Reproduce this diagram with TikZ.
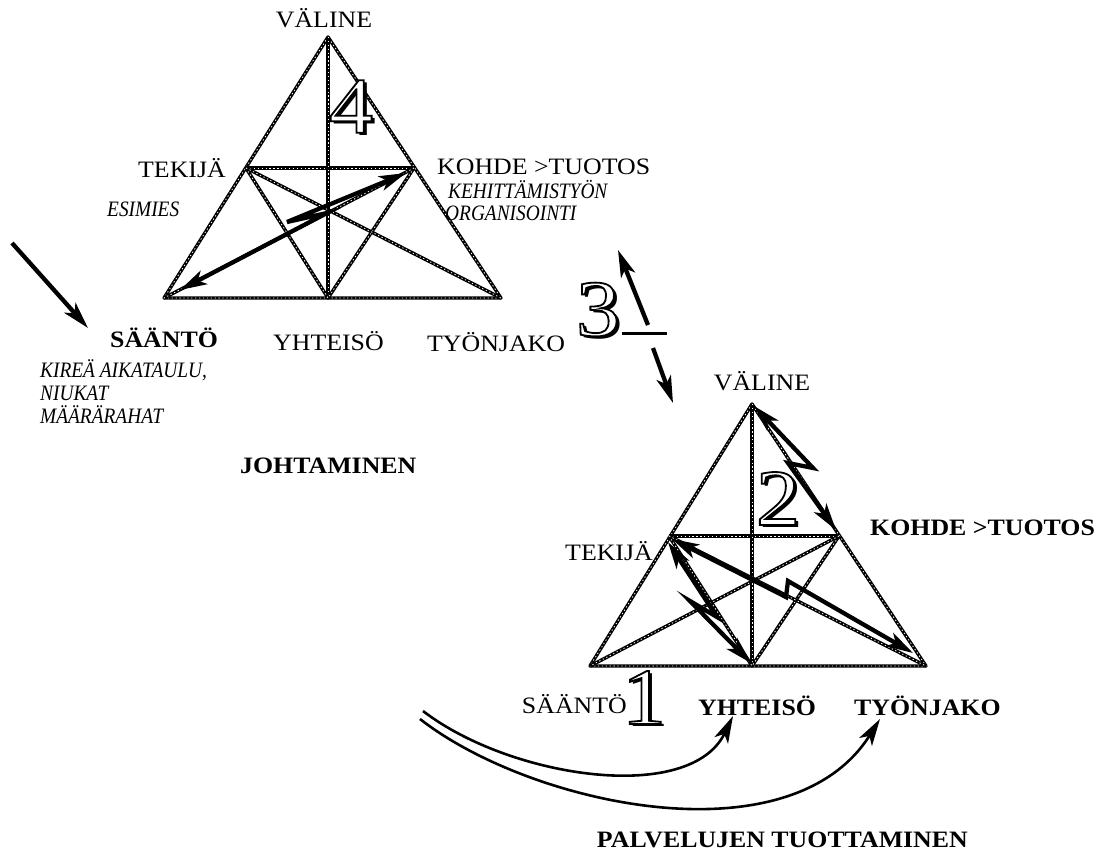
\documentclass[tikz,border=0pt]{standalone}
\usepackage{fontspec}
\setmainfont{Liberation Serif}[FakeStretch=1.1]
\newfontfamily\condfam{Liberation Serif}[FakeStretch=0.88]
\usetikzlibrary{arrows.meta}
\newcommand{\outnum}[1]{%
\makebox[0pt][l]{\kern3pt\raisebox{-3pt}{#1}}%
{\color{white}\special{pdf:literal direct 0 G 2 Tr 1.8 w}#1\special{pdf:literal direct 0 Tr 0.4 w}}}
\tikzset{
  lbl/.style={font=\fontsize{23.5}{26}\selectfont, inner sep=0pt, anchor=base west},
  lblb/.style={lbl, font=\fontsize{23.5}{26}\selectfont\bfseries},
  itl/.style={lbl, font=\fontsize{22}{24}\selectfont\condfam\itshape},
  numb/.style={inner sep=0pt, font=\fontsize{80}{80}\selectfont},
  tri/.style={line width=3.4pt, line join=round,
    postaction={draw, white, line width=0.8pt, dash pattern=on 1.3pt off 2.6pt}},
  arr/.style={line width=4.3pt, line join=miter},
  tip/.tip={Stealth[length=27pt, width=15pt, inset=7pt]},
}
\begin{document}
\begin{tikzpicture}[x=1pt, y=-1pt]
\path[use as bounding box, fill=white] (0,0) rectangle (1106,856);

% ---------- top triangle ----------
\coordinate (A1) at (328,37);
\coordinate (BL1) at (164,298);
\coordinate (BR1) at (501,298);
\coordinate (L1) at (246,168);
\coordinate (R1) at (414,168);
\coordinate (BM1) at (328,298);
\draw[tri] (A1) -- (BL1) -- (BR1) -- cycle;
\draw[tri] (L1) -- (R1);
\draw[tri] (A1) -- (BM1);
\draw[tri] (L1) -- (BM1) -- (R1);
\draw[tri] (L1) -- (BR1);
\draw[tri] (R1) -- (BL1);

\coordinate (a1s) at (406,173);
\coordinate (a1k1) at (287,222);
\coordinate (a1k2) at (327,213);
\coordinate (a1e) at (180,290);
\draw[arr, tip-tip] (a1s) -- (a1k1) -- (a1k2) -- (a1e);

\node[numb] (n4) at (351,108) {\outnum{4}};

% ---------- bottom triangle ----------
\coordinate (A2) at (752,404);
\coordinate (BL2) at (590,666);
\coordinate (BR2) at (926,666);
\coordinate (L2) at (669,536);
\coordinate (R2) at (839,536);
\coordinate (BM2) at (752,666);
\draw[tri] (A2) -- (BL2) -- (BR2) -- cycle;
\draw[tri] (L2) -- (R2);
\draw[tri] (A2) -- (BM2);
\draw[tri] (L2) -- (BM2) -- (R2);
\draw[tri] (L2) -- (BR2);
\draw[tri] (R2) -- (BL2);

\coordinate (b1s) at (754,406);
\coordinate (b1k1) at (813,468);
\coordinate (b1k2) at (788,463);
\coordinate (b1e) at (836,530);
\draw[arr, tip-tip] (b1s) -- (b1k1) -- (b1k2) -- (b1e);

\coordinate (b2s) at (672,539);
\coordinate (b2k1) at (786,597);
\coordinate (b2k2) at (788,581);
\coordinate (b2e) at (913,653);
\draw[arr, tip-tip] (b2s) -- (b2k1) -- (b2k2) -- (b2e);

\coordinate (b3s) at (668,542);
\coordinate (b3k1) at (717,617);
\coordinate (b3k2) at (690,601);
\coordinate (b3e) at (751,663);
\draw[arr, tip-tip] (b3s) -- (b3k1) -- (b3k2) -- (b3e);

\node[numb] (n2) at (778,500) {\outnum{2}};
\node[numb] (n1) at (644,699) {\outnum{1}};

% ---------- between ----------
\node[numb] (n3) at (598,311) {\outnum{3}};
\coordinate (h3a) at (622,333);
\coordinate (h3b) at (667,333);
\draw[line width=3pt] (h3a) -- (h3b);
\coordinate (u3s) at (648,325);
\coordinate (u3e) at (618,250);
\draw[arr, -tip] (u3s) -- (u3e);
\coordinate (d3s) at (653,348);
\coordinate (d3e) at (673,403);
\draw[arr, -tip] (d3s) -- (d3e);

\coordinate (ls) at (12,243);
\coordinate (le) at (88,328);
\draw[arr, -tip] (ls) -- (le);

% ---------- labels top ----------
\node[lbl, anchor=base] (v1) at (324,28) {VÄLINE};
\node[lbl] (t1) at (138,178) {TEKIJÄ};
\node[itl] (e1) at (107,216) {ESIMIES};
\node[lbl] (k1) at (437,175) {KOHDE >TUOTOS};
\node[itl] (kh1) at (448,198) {KEHITTÄMISTYÖN};
\node[itl] (o1) at (445,220) {ORGANISOINTI};
\node[lblb] (s1) at (110,347) {SÄÄNTÖ};
\node[lbl] (y1) at (273,350) {YHTEISÖ};
\node[lbl] (ty1) at (427,351) {TYÖNJAKO};
\node[itl] (ki) at (40,377) {KIREÄ AIKATAULU,};
\node[itl] (ni) at (40,400) {NIUKAT};
\node[itl] (ma) at (40,423) {MÄÄRÄRAHAT};
\node[lblb] (jo) at (240,473) {JOHTAMINEN};

% ---------- labels bottom ----------
\node[lbl, anchor=base] (v2) at (762,390) {VÄLINE};
\node[lbl] (t2) at (565,560) {TEKIJÄ};
\node[lblb] (k2) at (870,535) {KOHDE >TUOTOS};
\node[lbl, anchor=base east] (s2) at (627,713) {SÄÄNTÖ};
\node[lblb] (y2) at (698,715) {YHTEISÖ};
\node[lblb] (ty2) at (854,715) {TYÖNJAKO};
\node[lblb, anchor=base east] (pa) at (968,847) {PALVELUJEN TUOTTAMINEN};

% ---------- curves ----------
\coordinate (c1s) at (423,711);
\coordinate (c1e) at (733,716);
\coordinate (c2s) at (420,719);
\coordinate (c2e) at (880,719);
\draw[line width=2.6pt, -tip] (c1s) .. controls (510,778) and (690,805) .. (c1e);
\draw[line width=2.6pt, -tip] (c2s) .. controls (530,805) and (790,862) .. (c2e);
\end{tikzpicture}
\end{document}
